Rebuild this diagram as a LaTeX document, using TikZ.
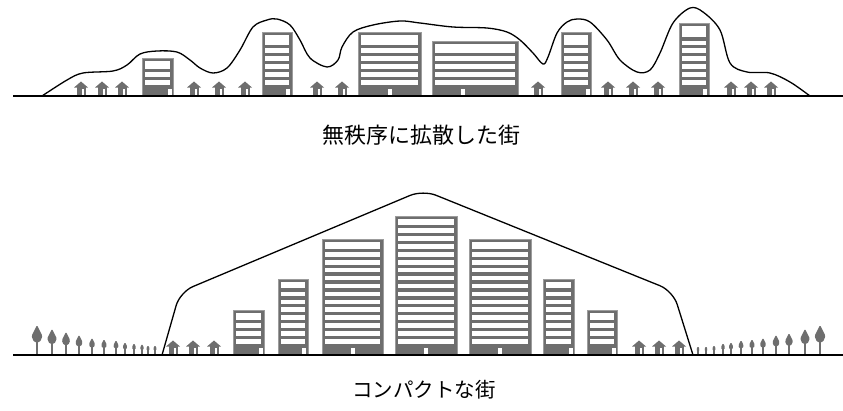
\documentclass[tikz,border=0pt]{standalone}
\usepackage{fontspec}
\newfontfamily\jpfont{Noto Sans CJK JP}
\definecolor{bldg}{HTML}{6E6E6E}
\definecolor{bldgedge}{HTML}{9C9C9C}
\tikzset{
	skyline/.style={draw=black,line width=1.3pt,line join=round},
	groundline/.style={draw=black,line width=1.2pt},
	caption/.style={font=\jpfont\fontsize{20.5}{24}\selectfont,inner sep=0},
}
\newcommand{\building}[5]{
	\fill[bldg,draw=bldgedge,line width=0.8pt] (#1,#3) rectangle (#2,#4);
	\pgfmathtruncatemacro{\nfl}{int((#4-11.5-#3-8)/7.9)+1}
	\foreach \k in {1,...,\nfl}{
		\pgfmathsetmacro{\yb}{#4-11.5-(\k-1)*7.9}
		\pgfmathsetmacro{\yt}{(\k==\nfl)*(#3+3)+(\k<\nfl)*(\yb-4.5)}
		\fill[white] (#1+3,\yt) rectangle (#2-3,\yb);
	}
	\fill[white] (#5-2,#4-7) rectangle (#5+2,#4);
}
\newcommand{\house}[2]{
	\fill[bldg] (#1-7,#2-8.5) -- (#1,#2-14.5) -- (#1+7,#2-8.5) -- cycle;
	\fill[bldg] (#1-4.5,#2-9.5) rectangle (#1+4.5,#2);
	\fill[white] (#1+1,#2-7) rectangle (#1+3,#2);
}
\newcommand{\tree}[2]{
	\fill[bldg] (#1-0.9,355) rectangle (#1+0.9,355-18*#2);
	\fill[bldg,rounded corners=1.2pt] (#1,355-30*#2) -- (#1+5.5*#2,355-19*#2) -- (#1+3*#2,355-13*#2) -- (#1-3*#2,355-13*#2) -- (#1-5.5*#2,355-19*#2) -- cycle;
}

\begin{document}
\begin{tikzpicture}[x=1pt,y=-1pt]
	\useasboundingbox (0,0) rectangle (843,410);

	\building{142}{173}{58}{96}{169.5}
	\building{262}{292}{32}{96}{287.5}
	\building{358}{421}{32}{96}{390}
	\building{432}{518}{41}{96}{463}
	\building{561}{591}{32}{96}{587.5}
	\building{679}{709}{23}{96}{705}
	\foreach \hx in {81,102,122,194,219,245,317,342,538,608,633,658,731,751,771}
		\house{\hx}{96};
	\draw[skyline] plot[smooth,tension=0.55] coordinates {(42,96) (67,80) (83,73) (113,71) (127,65) (140,54) (157,51) (177,52) (190,60) (200,68) (213,73) (227,68) (240,50) (253,27) (267,20) (277,19) (290,25) (300,40) (310,58) (327,67) (338,60) (342,47) (353,32) (373,25) (400,21) (420,23) (453,27) (487,28) (507,32) (520,40) (533,53) (543,64) (548,57) (557,33) (567,22) (577,19) (590,22) (607,40) (620,60) (637,72) (650,70) (660,53) (673,23) (690,8) (703,12) (720,30) (730,63) (747,72) (770,73) (790,82) (810,96)};
	\coordinate (topL) at (13,96);
	\coordinate (topR) at (843,96);
	\draw[groundline] (topL) -- (topR);
	\node[caption,font=\jpfont\fontsize{22}{26}\selectfont] (sprawl) at (421,135) {無秩序に拡散した街};

	\building{233}{264}{310}{355}{260.5}
	\building{278}{308}{279}{355}{304}
	\building{322}{383}{239}{355}{352.5}
	\building{395}{457}{216}{355}{425.5}
	\building{469}{531}{239}{355}{499.5}
	\building{543}{574}{279}{355}{570.5}
	\building{587}{617}{310}{355}{613.5}
	\foreach \hx in {173,193,214,639,659,679}
		\house{\hx}{355};
	\foreach \tx/\ts in {37/1,52/0.87,66/0.77,79/0.67,92/0.57,104/0.53,116/0.5,125/0.43,134/0.4,142/0.37,148/0.33,155/0.33,698/0.3,706/0.3,714/0.33,723/0.4,731/0.43,741/0.5,752/0.53,763/0.57,776/0.67,789/0.73,805/0.87,820/1}
		\tree{\tx}{\ts};
	\draw[skyline,rounded corners=14pt] (162,355) -- (180,292) -- (423,190) -- (673,291) -- (693,355);
	\coordinate (botL) at (13,355);
	\coordinate (botR) at (843,355);
	\draw[groundline] (botL) -- (botR);
	\node[caption] (compact) at (424,390) {コンパクトな街};
\end{tikzpicture}
\end{document}
